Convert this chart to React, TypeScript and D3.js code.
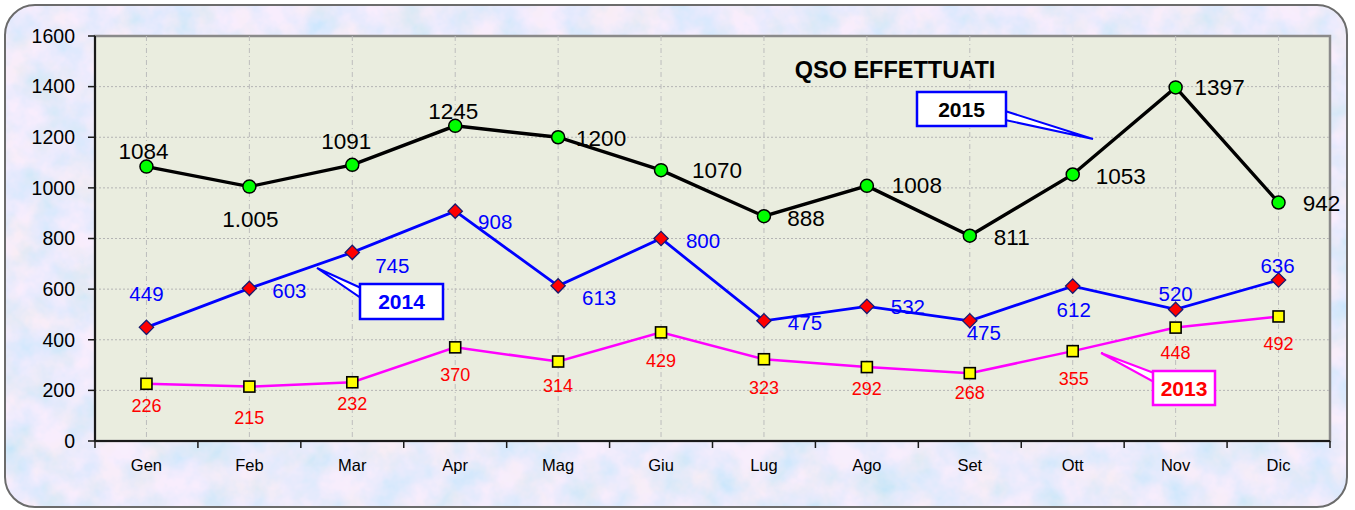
import React from "react";
import * as d3 from "d3";

const months = ["Gen", "Feb", "Mar", "Apr", "Mag", "Giu", "Lug", "Ago", "Set", "Ott", "Nov", "Dic"];
const values2015 = [1084, 1005, 1091, 1245, 1200, 1070, 888, 1008, 811, 1053, 1397, 942];
const values2014 = [449, 603, 745, 908, 613, 800, 475, 532, 475, 612, 520, 636];
const values2013 = [226, 215, 232, 370, 314, 429, 323, 292, 268, 355, 448, 492];
const labels2015 = ["1084", "1.005", "1091", "1245", "1200", "1070", "888", "1008", "811", "1053", "1397", "942"];
const yTicks = [0, 200, 400, 600, 800, 1000, 1200, 1400, 1600];

// label offsets (dx, dy) relative to the point, style only
const off2015: [number, number][] = [[-3, -15], [1, 33], [-6, -24], [-2, -15], [43, 1], [56, 0], [42, 2], [50, -1], [42, 1], [48, 2], [44, 0], [43, 1]];
const off2014: [number, number][] = [[0, -34], [40, 2], [40, 13], [40, 11], [41, 12], [42, 2], [41, 2], [41, 0], [14, 12], [1, 24], [0, -16], [-1, -14]];
const off2013: [number, number][] = [[0, 22], [0, 31], [0, 21], [0, 27], [0, 24], [0, 28], [0, 28], [0, 22], [0, 20], [1, 28], [0, 25], [0, 27]];

const W = 1355, H = 510;
const L = 95, R = 1330, T = 36, B = 441;

export default function App() {
  const x = d3.scaleBand<string>().domain(months).range([L, R]);
  const y = d3.scaleLinear().domain([0, 1600]).range([B, T]);
  const cx = (i: number) => (x(months[i]) as number) + x.bandwidth() / 2;
  const line = d3.line<number>().x((_, i) => cx(i)).y((v) => y(v));

  const diamond = d3.symbol().type(d3.symbolDiamond2 ?? d3.symbolDiamond).size(130)();

  const callout = (
    bx: number, by: number, bw: number, bh: number,
    p1: [number, number], p2: [number, number], tip: [number, number],
    text: string, stroke: string, fill: string
  ) => (
    <g>
      <polygon points={`${p1[0]},${p1[1]} ${tip[0]},${tip[1]} ${p2[0]},${p2[1]}`} fill="white" stroke={stroke} strokeWidth={2} strokeLinejoin="miter" />
      <rect x={bx} y={by} width={bw} height={bh} fill="white" stroke={stroke} strokeWidth={2.5} />
      <text x={bx + bw / 2} y={by + bh / 2} dy="0.36em" textAnchor="middle" fontWeight="bold" fontSize={21} fill={fill}>{text}</text>
    </g>
  );

  return (
    <svg width={W} height={H} style={{ position: "absolute", left: 0, top: 0 }} fontFamily="'Liberation Sans', Arial, sans-serif">
      <defs>
        <filter id="tex" x="0" y="0" width="100%" height="100%">
          <feTurbulence type="fractalNoise" baseFrequency="0.03" numOctaves={4} seed={7} result="n" />
          <feColorMatrix in="n" type="matrix" values="0.7 0 0 0 0.5  0.1 0 0 0 0.8  0 0 0.2 0 0.88  0 0 0 0 1" />
        </filter>
        <clipPath id="frameClip">
          <rect x={5} y={5} width={1342} height={502} rx={30} ry={30} />
        </clipPath>
      </defs>
      <g clipPath="url(#frameClip)">
        <rect x={0} y={0} width={W} height={H} fill="#d9e2f4" />
        <rect x={0} y={0} width={W} height={H} filter="url(#tex)" opacity={0.8} />
      </g>
      <rect x={5} y={5} width={1342} height={502} rx={30} ry={30} fill="none" stroke="#6b6b6b" strokeWidth={2} />

      {/* plot area */}
      <rect x={L} y={T} width={R - L} height={B - T} fill="#eaeddf" stroke="#8a8a8a" strokeWidth={2.5} />

      {/* horizontal grid */}
      {yTicks.slice(1, -1).map((t) => (
        <line key={t} x1={L} x2={R} y1={y(t)} y2={y(t)} stroke="#b4b4b4" strokeWidth={1} strokeDasharray="2,2" />
      ))}
      {/* vertical grid */}
      {months.map((m, i) => (
        <line key={m} x1={cx(i)} x2={cx(i)} y1={T} y2={B} stroke="#bdbdbd" strokeWidth={1} strokeDasharray="5,3,1,3" />
      ))}

      {/* axes */}
      <line x1={L} x2={L} y1={T} y2={B} stroke="#1a1a1a" strokeWidth={2} />
      <line x1={L} x2={R} y1={B} y2={B} stroke="#1a1a1a" strokeWidth={2} />
      {yTicks.map((t) => (
        <g key={t}>
          <line x1={88} x2={L} y1={y(t)} y2={y(t)} stroke="#1a1a1a" strokeWidth={1.5} />
          <text x={75} y={y(t)} dy="0.35em" textAnchor="end" fontSize={19.5} fill="#000">{t}</text>
        </g>
      ))}
      {d3.range(months.length + 1).map((i) => {
        const xx = L + i * x.bandwidth();
        return <line key={i} x1={xx} x2={xx} y1={B} y2={B + 7} stroke="#1a1a1a" strokeWidth={1.5} />;
      })}
      {months.map((m, i) => (
        <text key={m} x={cx(i)} y={465} dy="0.35em" textAnchor="middle" fontSize={16.5} fill="#000">{m}</text>
      ))}

      {/* title */}
      <text x={895} y={70} dy="0.35em" textAnchor="middle" fontWeight="bold" fontSize={23.5} fill="#000">QSO EFFETTUATI</text>

      {/* series 2013 */}
      <path d={line(values2013) as string} fill="none" stroke="#ff00ff" strokeWidth={2.5} />
      {values2013.map((v, i) => (
        <rect key={i} x={cx(i) - 5.5} y={y(v) - 5.5} width={11} height={11} fill="#ffff00" stroke="#000" strokeWidth={1.6} />
      ))}
      {values2013.map((v, i) => (
        <text key={i} x={cx(i) + off2013[i][0]} y={y(v) + off2013[i][1]} dy="0.35em" textAnchor="middle" fontSize={18} fill="#ff0000">{v}</text>
      ))}

      {/* series 2014 */}
      <path d={line(values2014) as string} fill="none" stroke="#0000ff" strokeWidth={2.8} />
      {values2014.map((v, i) => (
        <path key={i} d={diamond as string} transform={`translate(${cx(i)},${y(v)})`} fill="#ff0000" stroke="#1a1a6e" strokeWidth={1.3} />
      ))}
      {values2014.map((v, i) => (
        <text key={i} x={cx(i) + off2014[i][0]} y={y(v) + off2014[i][1]} dy="0.35em" textAnchor="middle" fontSize={20.5} fill="#0000ff">{v}</text>
      ))}

      {/* series 2015 */}
      <path d={line(values2015) as string} fill="none" stroke="#000" strokeWidth={3.4} />
      {values2015.map((v, i) => (
        <circle key={i} cx={cx(i)} cy={y(v)} r={6.5} fill="#00ff00" stroke="#000" strokeWidth={1.5} />
      ))}
      {values2015.map((v, i) => (
        <text key={i} x={cx(i) + off2015[i][0]} y={y(v) + off2015[i][1]} dy="0.35em" textAnchor="middle" fontSize={22.5} fill="#000">{labels2015[i]}</text>
      ))}

      {/* callouts */}
      {callout(917, 92, 89, 34, [1005, 111], [1005, 120], [1093, 139], "2015", "#0000ff", "#000")}
      {callout(360, 284, 83, 35, [361, 288], [361, 298], [317, 268], "2014", "#0000ff", "#0000ff")}
      {callout(1153, 371, 62, 34, [1154, 373], [1154, 382], [1101, 353], "2013", "#ff00ff", "#ff0000")}
    </svg>
  );
}
